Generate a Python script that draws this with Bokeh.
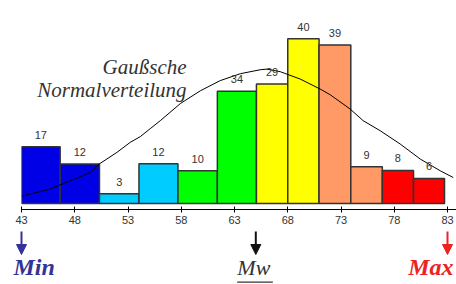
from bokeh.plotting import figure
from bokeh.models import Range1d, FixedTicker, ColumnDataSource, Arrow, NormalHead
from bokeh.core.properties import value
from bokeh.embed import file_html
from bokeh.resources import INLINE

# ---- data ----
counts = [17, 12, 3, 12, 10, 34, 29, 40, 39, 9, 8, 6]
bin_edges = [43.0, 46.63, 50.32, 54.03, 57.69, 61.39, 65.06, 68.0, 70.94, 73.92, 76.88, 79.81, 82.72]
bar_colors = ["#0000E6", "#0000E6", "#00CCFF", "#00CCFF", "#00FF00", "#00FF00",
              "#FFFF00", "#FFFF00", "#FF9966", "#FF9966", "#FF0000", "#FF0000"]
tick_values = [43, 48, 53, 58, 63, 68, 73, 78, 83]
curve_x = [43.04, 45.69, 46.63, 48.20, 49.45, 50.30, 51.96, 53.21, 54.15, 55.09, 56.03, 57.91,
           59.79, 61.66, 63.54, 65.42, 66.04, 67.29, 69.17, 71.05, 71.99, 73.86, 75.08, 76.68,
           78.56, 80.44, 82.32, 83.54]
curve_y = [0.61, 1.19, 1.54, 2.09, 2.57, 3.26, 4.22, 5.05, 5.52, 6.18, 6.84, 8.25,
           9.31, 10.15, 10.72, 11.05, 11.10, 10.89, 10.28, 9.45, 8.98, 7.80, 6.84, 6.01,
           4.91, 3.67, 2.70, 2.14]
curve_title = ["Gaußsche", "Normalverteilung"]
min_val, mean_val, max_val = 43, 65, 83

left = bin_edges[:-1]
right = bin_edges[1:]
widths = [r - l for l, r in zip(left, right)]
density = [c / w for c, w in zip(counts, widths)]
centers = [(l + r) / 2 for l, r in zip(left, right)]

src = ColumnDataSource(dict(left=left, right=right, top=density, bottom=[0] * len(counts),
                            color=bar_colors, center=centers,
                            label=[str(c) for c in counts]))

SERIF = "Liberation Serif"
SANS = "Liberation Sans"
PX_PER_UNIT = 10.65

x_end = 43 + 435 / PX_PER_UNIT

p = figure(frame_width=435, frame_height=201, x_range=Range1d(43, x_end),
           y_range=Range1d(-0.5, 16.11),
           y_axis_location=None, toolbar_location=None, output_backend="svg",
           min_border_left=21, min_border_right=0, min_border_top=8, min_border_bottom=21)
p.outline_line_color = None
p.grid.visible = False
p.background_fill_color = "white"
p.border_fill_color = "white"

p.quad(left="left", right="right", top="top", bottom="bottom", fill_color="color",
       line_color="#333333", line_width=1.5, source=src)
p.line(curve_x, curve_y, line_color="black", line_width=1)
p.text(x="center", y="top", text="label", source=src, text_align="center",
       text_baseline="alphabetic", y_offset=-12, text_font=value(SANS),
       text_font_size="11px", text_color="#333333")

p.text(x=[58.5, 58.5], y=[11.3, 9.35], text=curve_title, text_align="right",
       text_baseline="alphabetic", text_font=value(SERIF), text_font_style="italic",
       text_font_size="21px", text_color="#333333")

ax = p.xaxis[0]
ax.ticker = FixedTicker(ticks=tick_values)
ax.minor_tick_line_color = None
ax.major_tick_in = 3
ax.major_tick_out = 3
ax.axis_line_color = "black"
ax.major_tick_line_color = "black"
ax.major_label_standoff = 3
ax.major_label_text_font = SANS
ax.major_label_text_font_size = "11px"
ax.major_label_text_color = "#333333"

# ---- annotation strip: Min / Mw / Max (same x scale, frame spans full width) ----
q = figure(frame_width=456, frame_height=54,
           x_range=Range1d(43 - 21 / PX_PER_UNIT, x_end), y_range=Range1d(54, 0),
           x_axis_location=None, y_axis_location=None, toolbar_location=None,
           output_backend="svg", min_border_left=0, min_border_right=0,
           min_border_top=0, min_border_bottom=0)
q.outline_line_color = None
q.grid.visible = False

marks = [(min_val, "#333399"), (mean_val, "#111111"), (max_val, "#EE2222")]
for xv, col in marks:
    q.add_layout(Arrow(x_start=xv, y_start=1, x_end=xv, y_end=24, line_color=col, line_width=2,
                       end=NormalHead(size=10, fill_color=col, line_color=col)))

q.text(x=[min_val], y=[49], text=["Min"], text_align="left", x_offset=-8,
       text_font=value(SERIF), text_font_style="bold italic", text_font_size="24px",
       text_color="#333399")
q.text(x=[mean_val], y=[49], text=["Mw"], text_align="center", x_offset=-2,
       text_font=value(SERIF), text_font_style="italic", text_font_size="22px",
       text_color="#333333")
q.segment(x0=[mean_val - 1.75], x1=[mean_val + 1.6], y0=[51.7], y1=[51.7],
          line_color="#333333", line_width=1.2)
q.text(x=[max_val], y=[49], text=["Max"], text_align="right", x_offset=6,
       text_font=value(SERIF), text_font_style="bold italic", text_font_size="24px",
       text_color="#EE2222")

open("out.html", "w").write(file_html([p, q], INLINE))
